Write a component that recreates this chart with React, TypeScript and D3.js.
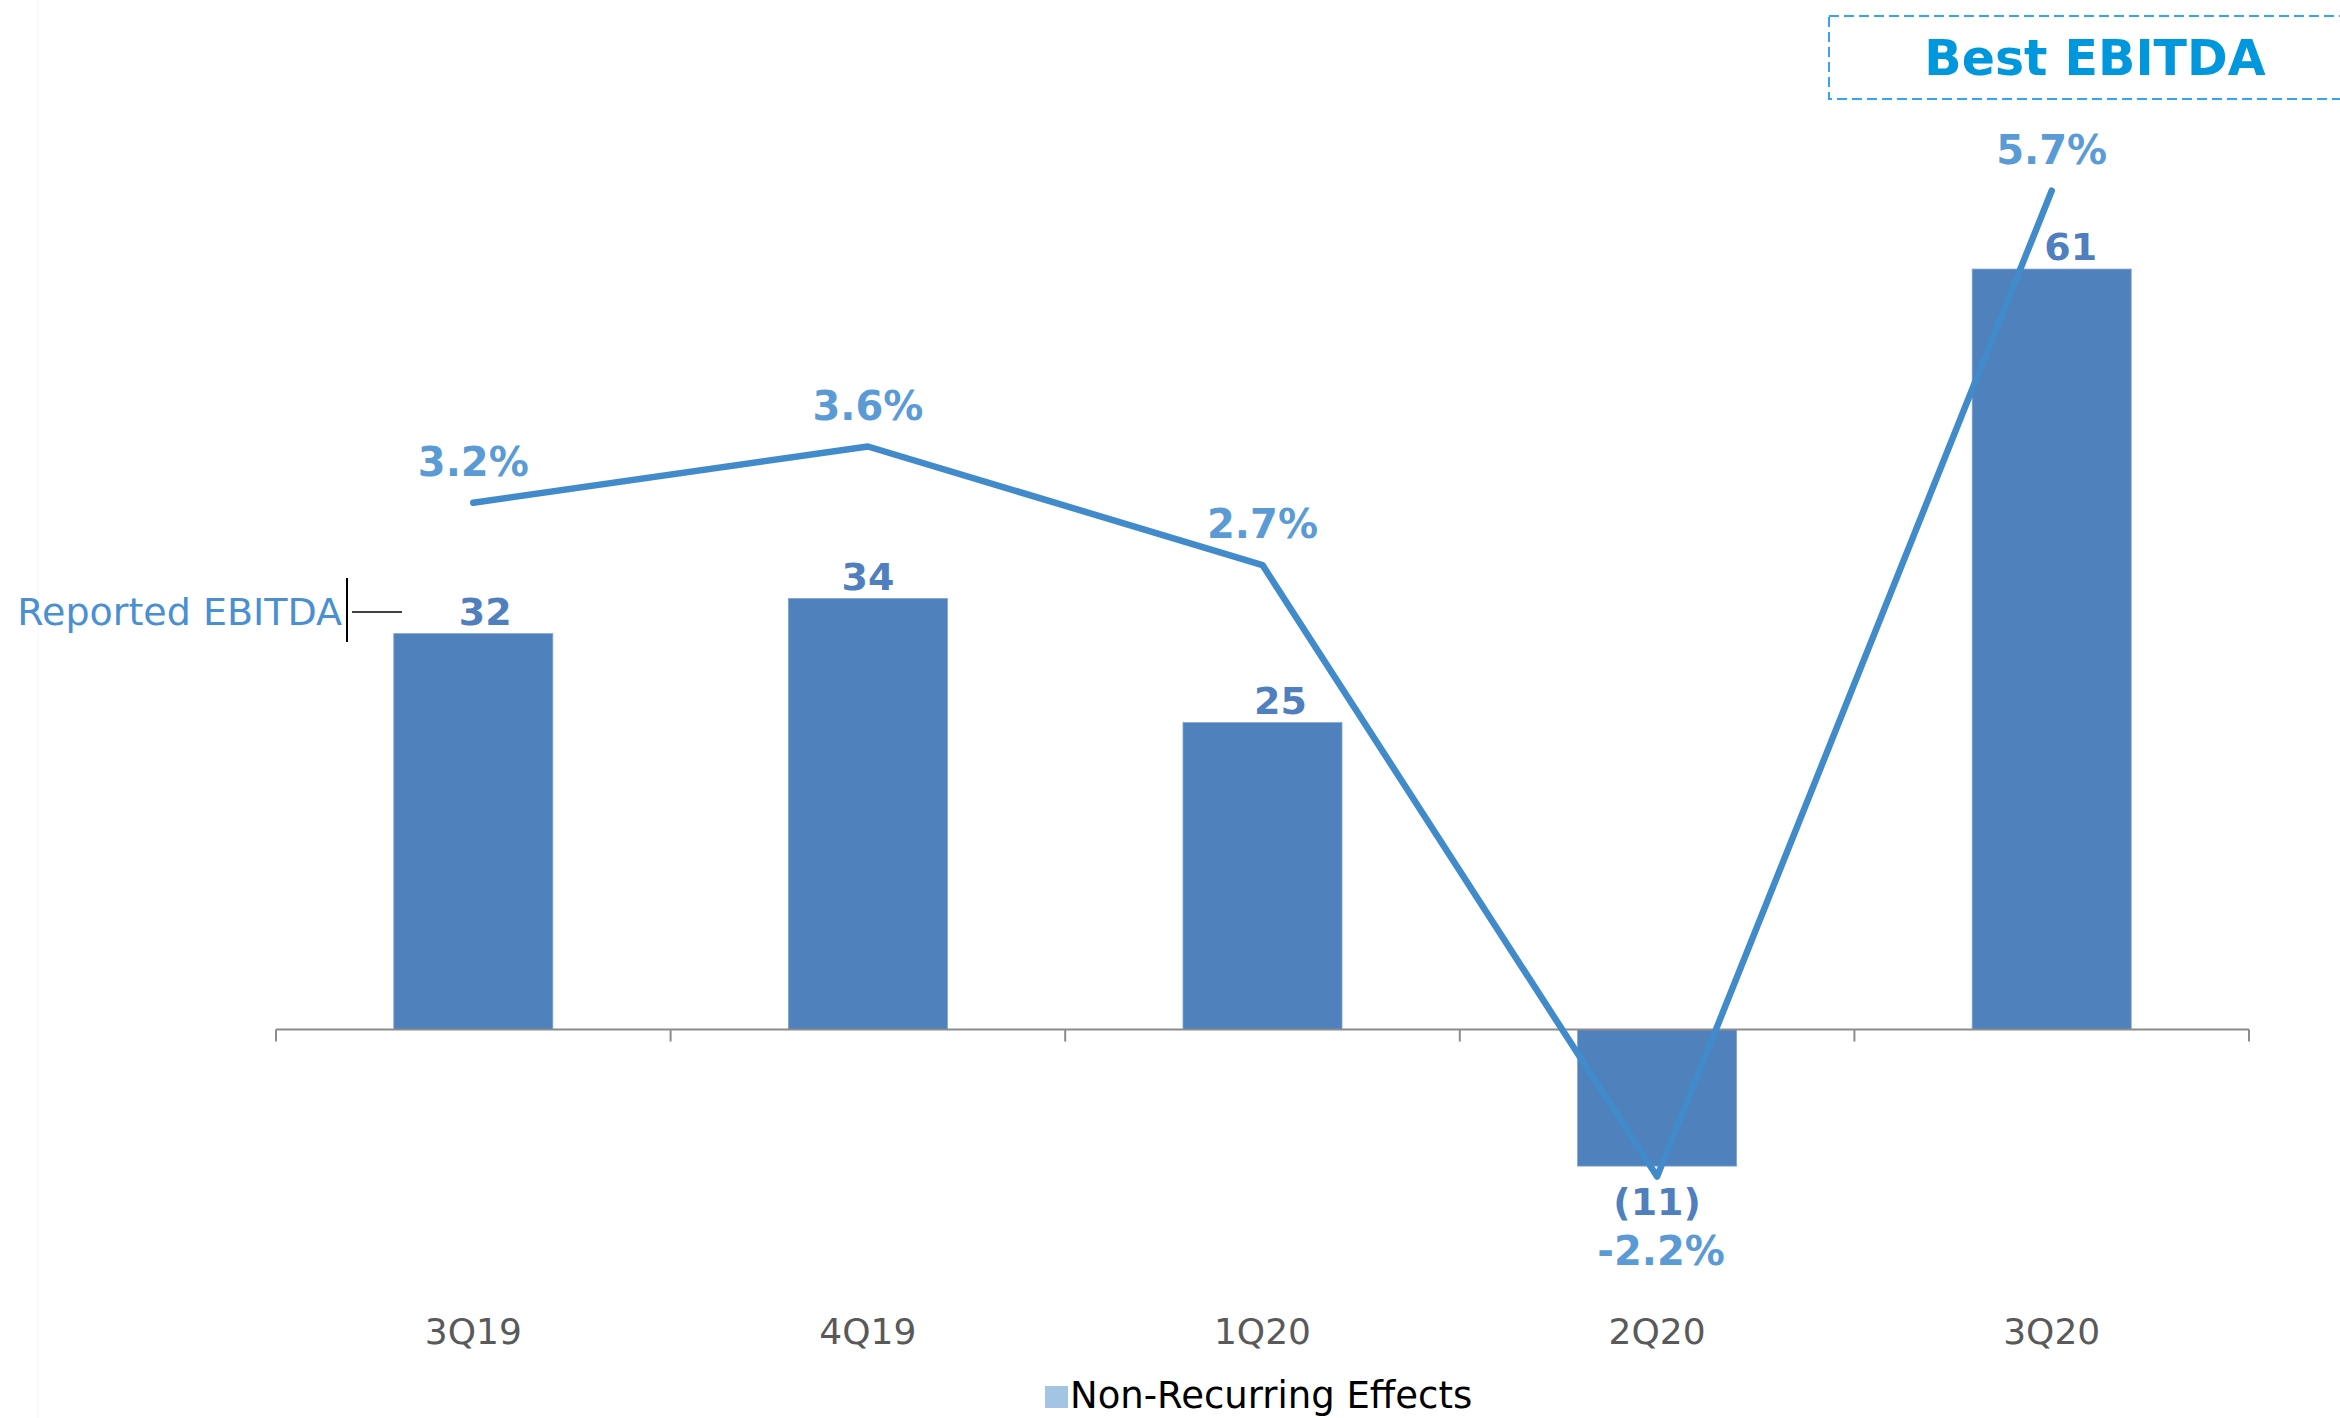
import React from "react";
import * as d3 from "d3";

// ---- data ----
const categories = ["3Q19", "4Q19", "1Q20", "2Q20", "3Q20"];
const ebitdaValues = [31.6, 34.4, 24.5, -10.9, 60.7];
const ebitdaLabels = ["32", "34", "25", "(11)", "61"];
const marginValues = [3.2, 3.65, 2.7, -2.2, 5.7];
const marginLabels = ["3.2%", "3.6%", "2.7%", "-2.2%", "5.7%"];
const legendLabel = "Non-Recurring Effects";
const sideLabel = "Reported EBITDA";
const calloutLabel = "Best EBITDA";

// label nudges (layout, px)
const barLabelNudge = [12, 0, 18, 0, 19];

const W = 2340;
const H = 1418;
const FONT = "'DejaVu Sans', Verdana, sans-serif";

export default function App() {
  const plotTop = 140;
  const plotBottom = 1230;
  const x = d3
    .scaleBand<string>()
    .domain(categories)
    .range([276, 2249])
    .paddingInner(0.597)
    .paddingOuter(0.2985);
  const yBar = d3.scaleLinear().domain([-16, 71]).range([plotBottom, plotTop]);
  const yPct = d3.scaleLinear().domain([-2.628, 6.106]).range([plotBottom, plotTop]);
  const zeroY = yBar(0);
  const bw = x.bandwidth();
  const cx = (c: string) => (x(c) as number) + bw / 2;

  const line = d3
    .line<number>()
    .x((_, i) => cx(categories[i]))
    .y((d) => yPct(d));

  const [r0] = x.range();
  const ticks = d3.range(categories.length + 1).map((i) => r0 + i * x.step());

  return (
    <svg
      width={W}
      height={H}
      viewBox={`0 0 ${W} ${H}`}
      style={{ position: "absolute", left: 0, top: 0, display: "block", background: "#fff" }}
    >
      <rect x={0} y={0} width={W} height={H} fill="#ffffff" />
      <line x1={38} x2={38} y1={0} y2={H} stroke="#f6f6f6" strokeWidth={1} />

      {/* Callout box */}
      <rect
        x={1829}
        y={16}
        width={530}
        height={83}
        fill="none"
        stroke="#35A6EE"
        strokeWidth={2}
        strokeDasharray="10 5"
      />
      <text
        x={2095}
        y={75}
        textAnchor="middle"
        fontFamily={FONT}
        fontWeight="bold"
        fontSize={49}
        fill="#0097DD"
      >
        {calloutLabel}
      </text>

      {/* Bars */}
      {ebitdaValues.map((v, i) => {
        const c = categories[i];
        const y0 = Math.min(yBar(v), zeroY);
        const h = Math.abs(yBar(v) - zeroY);
        return (
          <rect
            key={c}
            x={x(c)}
            y={y0}
            width={bw}
            height={h}
            fill="#4F81BD"
            stroke="#7FA3D1"
            strokeWidth={0.8}
          />
        );
      })}

      {/* Axis */}
      <line x1={r0} x2={x.range()[1]} y1={zeroY} y2={zeroY} stroke="#8C8C8C" strokeWidth={2} />
      {ticks.map((t, i) => (
        <line key={i} x1={t} x2={t} y1={zeroY} y2={zeroY + 12} stroke="#8C8C8C" strokeWidth={2} />
      ))}

      {/* Category labels */}
      {categories.map((c) => (
        <text
          key={c}
          x={cx(c)}
          y={1344}
          textAnchor="middle"
          fontFamily={FONT}
          fontSize={36}
          fill="#595959"
        >
          {c}
        </text>
      ))}

      {/* Margin line */}
      <path
        d={line(marginValues) || ""}
        fill="none"
        stroke="#428BCA"
        strokeWidth={6.5}
        strokeLinejoin="round"
        strokeLinecap="round"
      />

      {/* Bar labels */}
      {ebitdaValues.map((v, i) => {
        const c = categories[i];
        const yy = v >= 0 ? yBar(v) - 9 : yBar(v) + 49;
        return (
          <text
            key={c}
            x={cx(c) + barLabelNudge[i]}
            y={yy}
            textAnchor="middle"
            fontFamily={FONT}
            fontWeight="bold"
            fontSize={38}
            fill="#4F7FBD"
          >
            {ebitdaLabels[i]}
          </text>
        );
      })}

      {/* Margin labels */}
      {marginValues.map((v, i) => {
        const c = categories[i];
        const yy = v >= 0 ? yPct(v) - 27 : yPct(v) + 88;
        return (
          <text
            key={c}
            x={cx(c) + (v < 0 ? 4 : 0)}
            y={yy}
            textAnchor="middle"
            fontFamily={FONT}
            fontWeight="bold"
            fontSize={40}
            fill="#5B9BD5"
          >
            {marginLabels[i]}
          </text>
        );
      })}

      {/* Reported EBITDA side label */}
      <text x={342} y={625} textAnchor="end" fontFamily={FONT} fontSize={38} fill="#4A8FCF">
        {sideLabel}
      </text>
      <line x1={347} x2={347} y1={578} y2={642} stroke="#000" strokeWidth={2} />
      <line x1={352} x2={402} y1={612} y2={612} stroke="#000" strokeWidth={1.5} />

      {/* Legend */}
      <rect x={1045} y={1386} width={23} height={22} fill="#A3C4E3" />
      <text x={1070} y={1408} fontFamily={FONT} fontSize={37} fill="#000">
        {legendLabel}
      </text>
    </svg>
  );
}
